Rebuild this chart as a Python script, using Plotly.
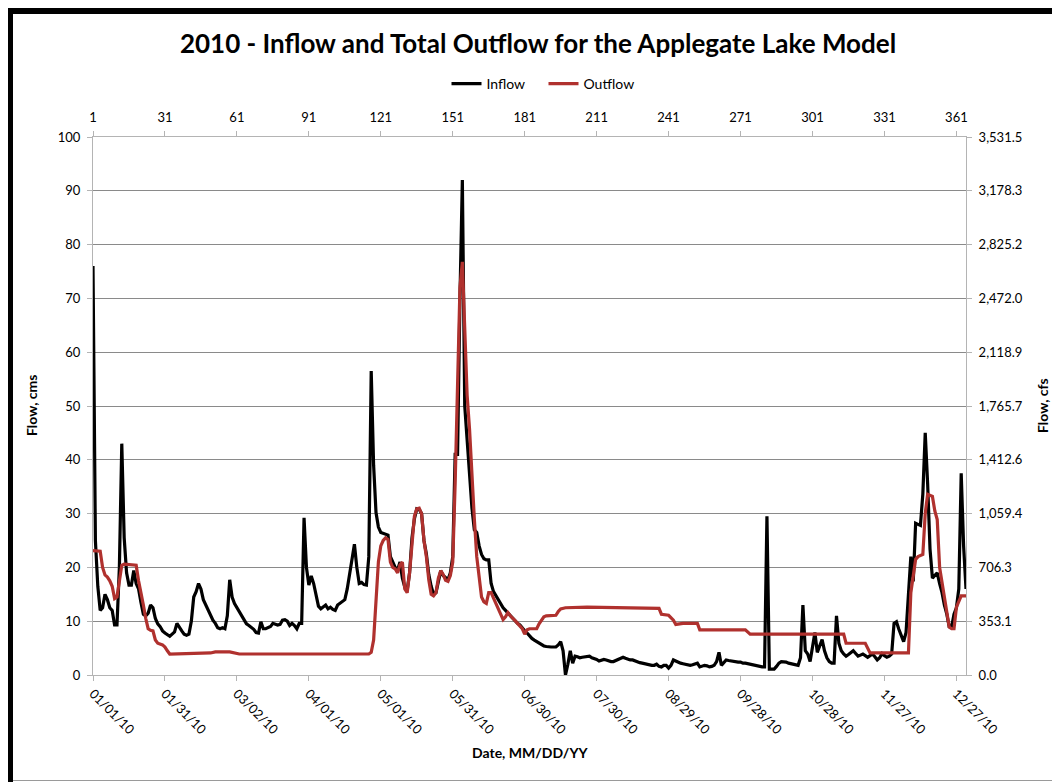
import plotly.graph_objects as go

# ---------------- data ----------------
inflow_day = list(range(1, 366))
inflow_cms = [
    76, 25, 16.5, 12, 12.5, 15, 14, 12.5, 12, 9.3,
    9.3, 20, 43, 25.5, 19, 16.7, 16.7, 19.4, 17, 16,
    13.5, 11.3, 11, 11.5, 13, 12.5, 10.5, 9.5, 9, 8.2,
    7.8, 7.5, 7.2, 7.6, 8, 9.6, 8.8, 8.2, 7.6, 7.4,
    7.6, 10, 14.5, 15.5, 17, 16, 14, 13, 12, 11.2,
    10.2, 9.6, 8.8, 8.6, 8.8, 8.6, 11, 17.7, 14.5, 13.3,
    12.5, 11.8, 10.8, 10, 9.5, 9.2, 8.9, 8.5, 7.9, 7.8,
    9.9, 8.6, 8.6, 8.8, 9, 9.6, 9.5, 9.3, 9.4, 10.2,
    10.3, 10, 9.2, 9.6, 9.2, 8.6, 9.6, 9.6, 29.2, 20,
    16.7, 18.4, 17, 14.5, 12.8, 12.3, 12.6, 13, 12.3, 12.6,
    12.2, 12, 13, 13.3, 13.7, 14, 16, 18.7, 21.5, 24.3,
    20, 17, 17.2, 16.8, 16.7, 22, 56.5, 39, 30.2, 27.5,
    26.5, 26.3, 26.2, 26, 22, 21, 20, 19.5, 21, 18,
    16.3, 15.7, 19, 25.5, 29, 30.9, 30.8, 30, 25, 22.5,
    18.7, 16.5, 15, 15.3, 17.5, 19.4, 18.5, 18, 17.7, 19,
    22, 41, 41, 70, 92, 50, 43, 36, 31, 27,
    26.5, 24, 22.4, 21.6, 21.4, 21.4, 17, 15.5, 14.7, 13.8,
    13, 12.5, 12, 11.5, 11, 10.6, 10.2, 9.6, 9.3, 8.7,
    8.2, 7.8, 7.2, 6.8, 6.5, 6.2, 5.9, 5.7, 5.4, 5.3,
    5.2, 5.2, 5.2, 5.2, 5.6, 6.2, 4.5, 0, 2, 4.5,
    2.2, 3.5, 3.4, 3.2, 3.3, 3.4, 3.5, 3.5, 3.2, 3.1,
    2.9, 2.6, 2.7, 2.9, 2.8, 2.6, 2.5, 2.5, 2.7, 2.9,
    3.1, 3.3, 3.1, 2.9, 2.8, 2.8, 2.6, 2.4, 2.3, 2.2,
    2.1, 1.9, 1.8, 1.8, 1.8, 2.0, 1.6, 1.5, 1.8, 1.8,
    1.3, 1.8, 2.8, 2.6, 2.3, 2.2, 2.1, 2.0, 1.9, 1.8,
    1.9, 2.1, 2.2, 1.5, 1.6, 1.8, 1.7, 1.5, 1.6, 1.8,
    2.5, 4.2, 1.8, 2.3, 2.8, 2.7, 2.6, 2.5, 2.5, 2.4,
    2.4, 2.2, 2.2, 2.1, 2.0, 1.8, 1.8, 1.7, 1.6, 1.5,
    1.5, 29.5, 1.1, 1.1, 1.1, 1.6, 2.2, 2.5, 2.5, 2.4,
    2.2, 2.1, 2.0, 1.9, 1.8, 3.2, 13, 4.5, 3.9, 2.5,
    5, 7.9, 4.2, 5.5, 6.6, 4.5, 3.2, 2.5, 2.2, 2.2,
    11, 5.9, 4.5, 3.9, 3.5, 3.8, 4.2, 4.5, 4.0, 3.5,
    3.7, 3.9, 3.6, 3.3, 3.6, 3.9, 3.4, 2.8, 3.2, 4.0,
    3.6, 3.3, 3.5, 3.9, 9.6, 9.9, 8.5, 7.2, 6.2, 7.9,
    16, 22, 17.4, 28.2, 28, 27.8, 33.6, 45, 35.6, 23.4,
    18, 18.5, 19, 17, 15.3, 13, 11.3, 9, 8.9, 11.3,
    12.5, 16, 37.5, 24, 16,
]

outflow_day = [
    1, 3, 4, 5, 6, 7, 8, 9, 10, 11, 12, 13, 14, 19, 20, 21, 22, 23, 24, 25,
    26, 27, 28, 30, 31, 32, 33, 50, 52, 58, 60, 62, 116, 117, 118, 119, 120, 121, 122, 123,
    124, 125, 126, 127, 128, 129, 130, 131, 132, 133, 134, 135, 136, 137, 138, 139, 140, 141, 142, 143,
    144, 145, 146, 147, 148, 149, 150, 151, 152, 153, 154, 155, 156, 157, 158, 159, 160, 161, 162, 163,
    164, 165, 166, 167, 168, 169, 170, 171, 172, 173, 174, 175, 176, 177, 178, 179, 180, 181, 182, 183,
    186, 187, 188, 189, 190, 194, 195, 196, 198, 207, 237, 238, 241, 243, 244, 247, 253, 254, 273, 275,
    314, 315, 323, 325, 341, 342, 344, 345, 347, 348, 349, 351, 352, 353, 354, 355, 356, 357, 358, 359,
    360, 361, 363, 365,
]
outflow_cms = [
    23.1, 23.1, 23, 20, 18.6, 18.2, 17.5, 16.5, 14.2, 14.5, 18, 20.4, 20.6, 20.4, 17.5, 15.5, 13, 10.5, 8.6, 8.3,
    8.2, 6.5, 5.9, 5.6, 5.2, 4.5, 3.9, 4.1, 4.3, 4.3, 4.1, 3.9, 3.9, 4.2, 6.5, 15, 21, 24, 25, 25.5,
    25.2, 21, 20, 19.7, 19, 20.5, 21, 16, 15.3, 19, 25, 29.5, 30.9, 31, 30, 25, 22, 17.7, 15, 14.7,
    15.3, 18, 19.4, 18.7, 17.6, 17.4, 18.5, 21, 35.6, 55, 72, 76.8, 62.6, 52, 45.7, 36, 29, 22, 18, 14.5,
    13.6, 13.3, 15.3, 15.3, 14.3, 13.3, 12.3, 11.3, 10.3, 10.8, 11.6, 11, 10.6, 10.1, 9.6, 9.1, 8.6, 7.6, 8.4, 8.6,
    8.6, 9.5, 10.3, 10.8, 11, 11.1, 11.8, 12.3, 12.5, 12.6, 12.4, 11.3, 11.1, 10.2, 9.4, 9.6, 9.6, 8.4, 8.4, 7.6,
    7.6, 5.9, 5.9, 4.1, 4.1, 15.3, 21.5, 22, 22.4, 30, 33.6, 33.2, 30.5, 28.9, 20, 17, 14, 11.5, 8.9, 8.6,
    8.6, 12.6, 14.7, 14.7,
]

top_tick_days = [1, 31, 61, 91, 121, 151, 181, 211, 241, 271, 301, 331, 361]
top_tick_labels = ["1", "31", "61", "91", "121", "151", "181", "211", "241", "271", "301", "331", "361"]
date_tick_labels = ["01/01/10", "01/31/10", "03/02/10", "04/01/10", "05/01/10", "05/31/10",
                    "06/30/10", "07/30/10", "08/29/10", "09/28/10", "10/28/10", "11/27/10", "12/27/10"]
cms_ticks = [0, 10, 20, 30, 40, 50, 60, 70, 80, 90, 100]
CFS_PER_CMS = 35.3147
cfs_ticks = [0.0, 353.15, 706.29, 1059.44, 1412.59, 1765.74, 2118.88, 2472.03, 2825.18, 3178.32, 3531.47]
cfs_labels = ["0.0", "353.1", "706.3", "1,059.4", "1,412.6", "1,765.7", "2,118.9",
              "2,472.0", "2,825.2", "3,178.3", "3,531.5"]

# ---------------- figure ----------------
FONT = "Lato"
GRID = "#8a8a8a"
AXIS = "#b4b4b4"
RED = "#B0312E"

W, H = 1060, 782
OFF = 8  # page body margin offset
# plot area in reference pixel coordinates
PX0, PX1, PY0, PY1 = 93, 966, 137, 675
L = PX0 - OFF
T = PY0 - OFF
R = W - (PX1 - OFF)
B = H - (PY1 - OFF)
PW, PH = PX1 - PX0, PY1 - PY0


def px_x(p):
    return (p - PX0) / PW


def px_y(p):
    return (PY1 - p) / PH


fig = go.Figure()
fig.add_trace(go.Scatter(x=inflow_day, y=inflow_cms, mode="lines", name="Inflow",
                         line=dict(color="black", width=3.2)))
fig.add_trace(go.Scatter(x=outflow_day, y=outflow_cms, mode="lines", name="Outflow",
                         line=dict(color=RED, width=3.2)))
# same outflow on the secondary (day-number / cfs) axes, invisible, so those axes are drawn
fig.add_trace(go.Scatter(x=outflow_day, y=[v * CFS_PER_CMS for v in outflow_cms], mode="lines",
                         xaxis="x2", yaxis="y2", showlegend=False, hoverinfo="skip",
                         opacity=0, line=dict(color=RED, width=0.1)))

tickfont = dict(family=FONT, size=13, color="black")
fig.update_layout(
    width=W, height=H,
    margin=dict(l=L, r=R, t=T, b=B, pad=0),
    paper_bgcolor="white", plot_bgcolor="white",
    font=dict(family=FONT, size=13, color="black"),
    title=dict(text="<b>2010 - Inflow and Total Outflow for the Applegate Lake Model</b>",
               x=0.5, xanchor="center", y=1 - (44 - OFF) / H, yanchor="middle",
               font=dict(family=FONT, size=26, color="black")),
    showlegend=True,
    legend=dict(orientation="h", x=px_x(543.5), xanchor="center", y=px_y(84), yanchor="middle",
                font=dict(family=FONT, size=14, color="black"), bgcolor="rgba(0,0,0,0)",
                itemwidth=30, tracegroupgap=0, entrywidth=52, entrywidthmode="pixels"),
    xaxis=dict(range=[1, 365], tickmode="array", tickvals=top_tick_days, ticktext=date_tick_labels,
               tickangle=45, ticks="outside", ticklen=5, tickcolor=AXIS, showgrid=False,
               showline=True, linecolor=AXIS, linewidth=1, zeroline=False, tickfont=tickfont),
    xaxis2=dict(range=[1, 365], overlaying="x", side="top", tickmode="array",
                tickvals=top_tick_days, ticktext=top_tick_labels, ticks="outside", ticklen=5,
                tickcolor=AXIS, showgrid=False, showline=True, linecolor=AXIS, zeroline=False,
                tickfont=tickfont, anchor="y2", ticklabelstandoff=4),
    yaxis=dict(range=[0, 100], tickmode="array", tickvals=cms_ticks, ticks="outside", ticklen=5,
               tickcolor=AXIS, showgrid=True, gridcolor=GRID, gridwidth=1, showline=True,
               linecolor=AXIS, zeroline=False, tickfont=tickfont, ticklabelstandoff=4),
    yaxis2=dict(range=[0, 3531.47], overlaying="y", side="right", tickmode="array",
                tickvals=cfs_ticks, ticktext=cfs_labels, ticks="outside", ticklen=5,
                tickcolor=AXIS, showgrid=False, showline=True, linecolor=AXIS, zeroline=False,
                tickfont=tickfont, anchor="x2", ticklabelstandoff=4),
    annotations=[
        dict(text="<b>Flow, cms</b>", xref="paper", yref="paper", x=px_x(31), y=px_y(406),
             textangle=-90, showarrow=False, font=dict(family=FONT, size=14, color="black"),
             xanchor="center", yanchor="middle"),
        dict(text="<b>Flow, cfs</b>", xref="paper", yref="paper", x=px_x(1042), y=px_y(406),
             textangle=-90, showarrow=False, font=dict(family=FONT, size=14, color="black"),
             xanchor="center", yanchor="middle"),
        dict(text="<b>Date, MM/DD/YY</b>", xref="paper", yref="paper", x=px_x(530), y=px_y(752),
             showarrow=False, font=dict(family=FONT, size=14, color="black"),
             xanchor="center", yanchor="middle"),
    ],
    shapes=[
        dict(type="rect", xref="paper", yref="paper", x0=px_x(7), x1=px_x(1075), y0=px_y(14), y1=px_y(8),
             fillcolor="black", line=dict(width=0), layer="above"),
        dict(type="rect", xref="paper", yref="paper", x0=px_x(7), x1=px_x(13), y0=px_y(800), y1=px_y(8),
             fillcolor="black", line=dict(width=0), layer="above"),
        dict(type="line", xref="paper", yref="paper", x0=px_x(13), x1=px_x(1075), y0=px_y(780.5), y1=px_y(780.5),
             line=dict(color="#9a9a9a", width=1), layer="above"),
    ],
)

fig.write_html("out.html", config={"displayModeBar": False})
